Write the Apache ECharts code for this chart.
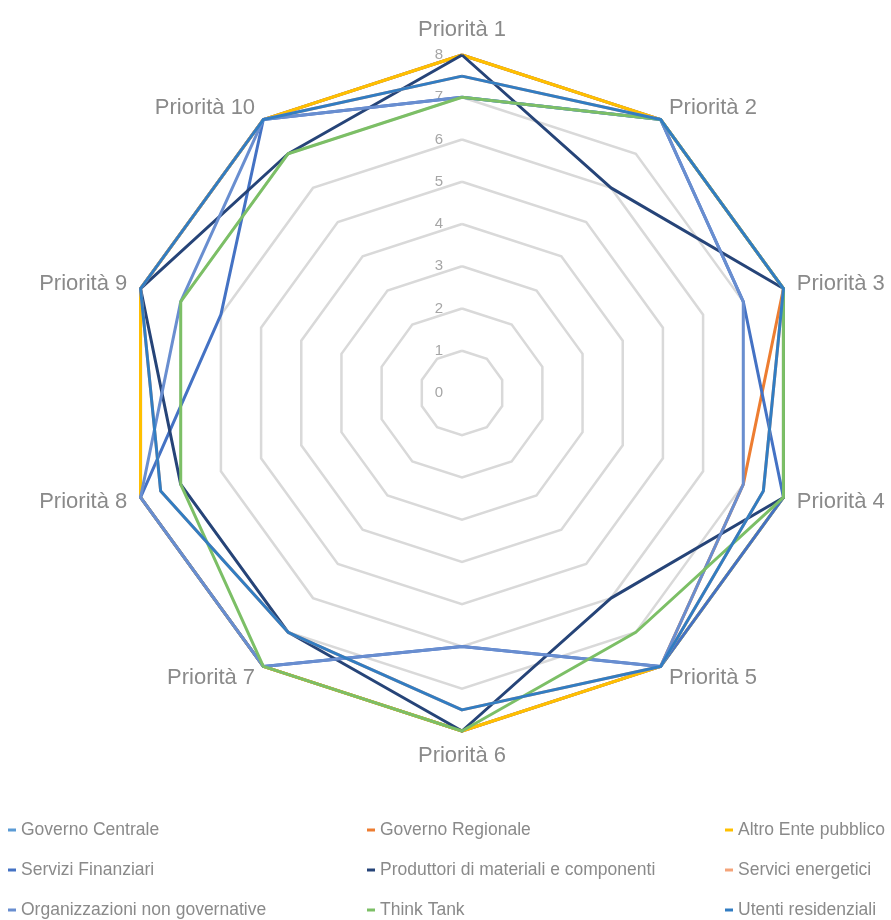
<!DOCTYPE html>
<html>
<head>
<meta charset="utf-8">
<script src="https://cdn.jsdelivr.net/npm/echarts@6/dist/echarts.min.js"></script>
<style>
  html, body { margin: 0; padding: 0; background: #fff; }
  #chart { width: 891px; height: 920px; }
</style>
</head>
<body>
<div id="chart"></div>
<script>
// indicator names and scale
const priorities = ['Priorità 1', 'Priorità 2', 'Priorità 3', 'Priorità 4', 'Priorità 5',
  'Priorità 6', 'Priorità 7', 'Priorità 8', 'Priorità 9', 'Priorità 10']
const maxValue = 8

// one array per stakeholder (Priorità 1..10)
const governoCentrale = [8, 8, 8, 8, 8, 8, 8, 8, 8, 8]
const governoRegionale = [8, 8, 8, 7, 8, 8, 8, 8, 8, 8]
const altroEnte = [8, 8, 8, 8, 8, 8, 8, 8, 8, 8]
const serviziFinanziari = [7, 8, 7, 8, 8, 6, 8, 8, 6, 8]
const produttori = [8, 6, 8, 8, 6, 8, 7, 7, 8, 7]
const serviciEnergetici = [7.5, 8, 8, 7.5, 8, 7.5, 7, 7.5, 8, 8]
const organizzazioni = [7, 8, 7, 7, 8, 6, 8, 8, 7, 8]
const thinkTank = [7, 8, 8, 8, 7, 8, 8, 7, 7, 7]
const utentiResidenziali = [7.5, 8, 8, 7.5, 8, 7.5, 7, 7.5, 8, 8]

const seriesList = [
  { name: 'Governo Centrale', values: governoCentrale, color: '#5B9BD5' },
  { name: 'Governo Regionale', values: governoRegionale, color: '#ED7D31' },
  { name: 'Altro Ente pubblico', values: altroEnte, color: '#FFC000' },
  { name: 'Servizi Finanziari', values: serviziFinanziari, color: '#4472C4' },
  { name: 'Produttori di materiali e componenti', values: produttori, color: '#264478' },
  { name: 'Servici energetici', values: serviciEnergetici, color: '#F4A47A' },
  { name: 'Organizzazioni non governative', values: organizzazioni, color: '#698ED0' },
  { name: 'Think Tank', values: thinkTank, color: '#7CBF66' },
  { name: 'Utenti residenziali', values: utentiResidenziali, color: '#327DC2' }
]

// legend grid: 3 columns x 3 rows
const legendCols = [3, 362, 720]
const legendRows = [815, 855, 895]

const grey = '#8a8a8a'
const fontFamily = '"Liberation Sans", Arial, sans-serif'

// echarts radar runs counter-clockwise, the picture runs clockwise
const order = [0, 9, 8, 7, 6, 5, 4, 3, 2, 1]
const clockwise = arr => order.map(i => arr[i])

const chart = echarts.init(document.getElementById('chart'))

const legends = seriesList.map((s, i) => ({
  left: legendCols[i % 3],
  top: legendRows[Math.floor(i / 3)],
  icon: 'rect',
  itemWidth: 8,
  itemHeight: 3,
  textStyle: { color: grey, fontSize: 17.5, fontFamily: fontFamily, lineHeight: 20 },
  data: [s.name]
}))

chart.setOption({
  animation: false,
  legend: legends,
  radar: {
    center: [462, 393],
    radius: 338,
    shape: 'polygon',
    startAngle: 90,
    splitNumber: 8,
    nameGap: 14,
    axisName: { color: grey, fontSize: 22, fontFamily: fontFamily },
    axisLine: { show: false },
    axisTick: { show: false },
    axisLabel: { show: false },
    splitArea: { show: false },
    splitLine: { lineStyle: { color: '#d9d9d9', width: 2.5 } },
    indicator: clockwise(priorities).map((p, i) => {
      const ind = { name: p, min: 0, max: maxValue }
      if (i === 0) {
        ind.axisLabel = { show: true, color: '#a6a6a6', fontSize: 15, fontFamily: fontFamily, margin: 19 }
      }
      return ind
    })
  },
  series: seriesList.map(s => ({
    type: 'radar',
    name: s.name,
    symbol: 'none',
    lineStyle: { width: 3, color: s.color },
    itemStyle: { color: s.color },
    data: [{ name: s.name, value: clockwise(s.values) }]
  }))
})
</script>
</body>
</html>
